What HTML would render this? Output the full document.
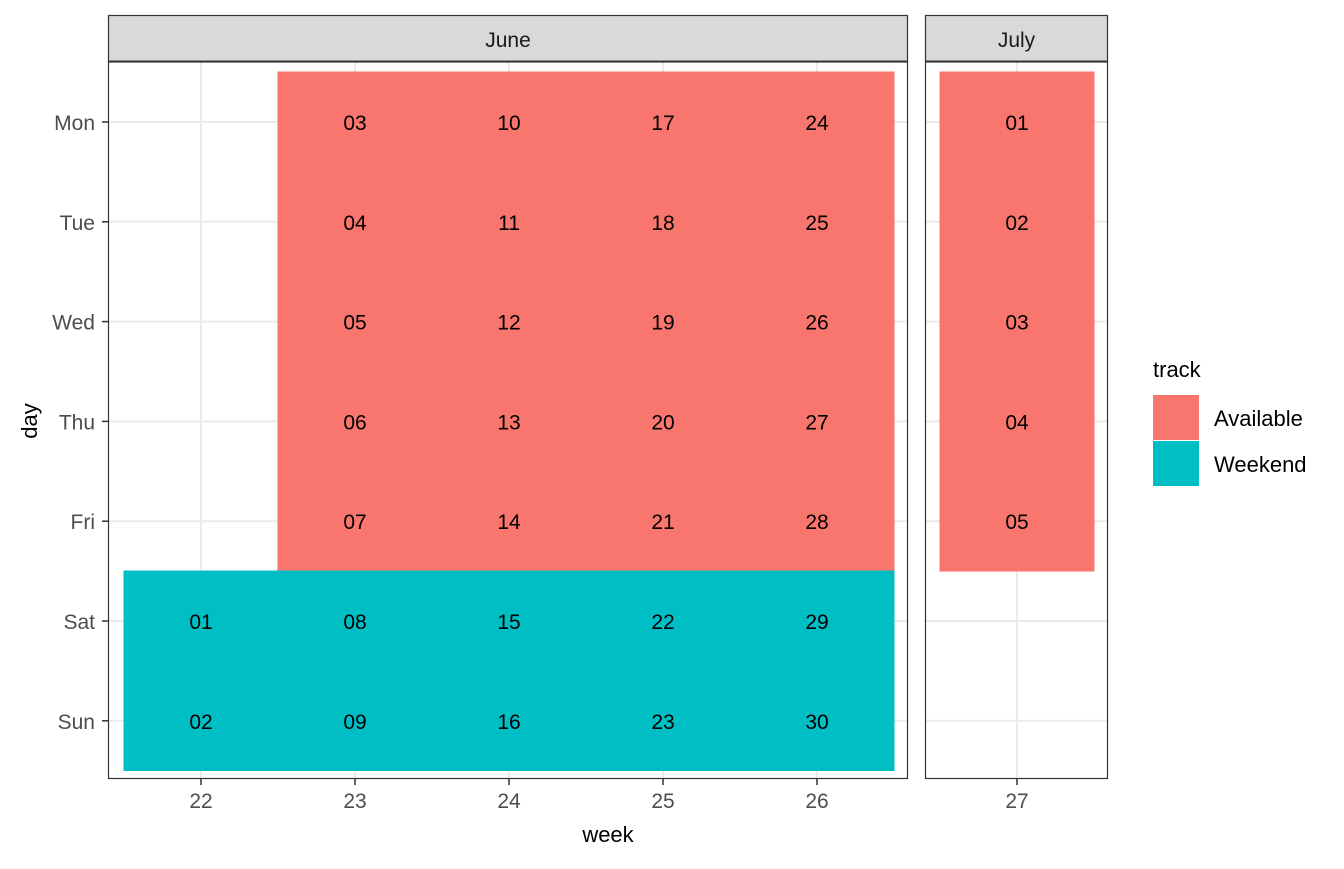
<!DOCTYPE html>
<html><head><meta charset="utf-8"><style>
body{margin:0;background:#fff;font-family:"Liberation Sans",sans-serif}
svg text{font-family:"Liberation Sans",sans-serif}
</style></head><body>
<svg id="chart" width="1344" height="864" xmlns="http://www.w3.org/2000/svg"></svg>
<script>
const days = ["Mon","Tue","Wed","Thu","Fri","Sat","Sun"];
const juneWeeks = [22,23,24,25,26];
const julyWeeks = [27];
// tiles: [week, dayIndex, date, track]
const juneDates = [
 [22,5,"01","Weekend"],[22,6,"02","Weekend"],
 [23,0,"03","Available"],[23,1,"04","Available"],[23,2,"05","Available"],[23,3,"06","Available"],[23,4,"07","Available"],[23,5,"08","Weekend"],[23,6,"09","Weekend"],
 [24,0,"10","Available"],[24,1,"11","Available"],[24,2,"12","Available"],[24,3,"13","Available"],[24,4,"14","Available"],[24,5,"15","Weekend"],[24,6,"16","Weekend"],
 [25,0,"17","Available"],[25,1,"18","Available"],[25,2,"19","Available"],[25,3,"20","Available"],[25,4,"21","Available"],[25,5,"22","Weekend"],[25,6,"23","Weekend"],
 [26,0,"24","Available"],[26,1,"25","Available"],[26,2,"26","Available"],[26,3,"27","Available"],[26,4,"28","Available"],[26,5,"29","Weekend"],[26,6,"30","Weekend"]
];
const julyDates = [
 [27,0,"01","Available"],[27,1,"02","Available"],[27,2,"03","Available"],[27,3,"04","Available"],[27,4,"05","Available"]
];
const trackNames = ["Available","Weekend"];
const trackColors = {Available:"#F8766D",Weekend:"#00BFC4"};

const NS="http://www.w3.org/2000/svg";
const svg=document.getElementById("chart");
function mk(tag,attrs,parent){const e=document.createElementNS(NS,tag);for(const k in attrs)e.setAttribute(k,attrs[k]);(parent||svg).appendChild(e);return e;}

const step=154;
const yScale=d=>122+d*99.8;
const panels=[
 {name:"June",x0:108,x1:908,weeks:juneWeeks,data:juneDates,xs:w=>201+(w-22)*step},
 {name:"July",x0:925,x1:1108,weeks:julyWeeks,data:julyDates,xs:w=>1017+(w-27)*step}
];
const pTop=62,pBottom=779;
panels.forEach(p=>{
 const g=mk("g",{});
 
 
 mk("rect",{x:p.x0,y:pTop,width:p.x1-p.x0,height:pBottom-pTop,fill:"#fff"},g);
 days.forEach((d,i)=>mk("line",{x1:p.x0,x2:p.x1,y1:yScale(i),y2:yScale(i),stroke:"#EBEBEB","stroke-width":2},g));
 p.weeks.forEach(w=>mk("line",{x1:p.xs(w),x2:p.xs(w),y1:pTop,y2:pBottom,stroke:"#EBEBEB","stroke-width":2},g));
 p.data.forEach(r=>{
  const [w,di,date,tr]=r;
  const t=mk("rect",{x:p.xs(w)-step/2-0.5,y:yScale(di)-49.9-0.5,width:step+1,height:100.8,fill:trackColors[tr],"shape-rendering":"crispEdges"},g);
  
  
 });
 p.data.forEach(r=>{
  const [w,di,date]=r;
  const tx=mk("text",{x:p.xs(w),y:yScale(di)+8,"text-anchor":"middle","font-size":21,fill:"#000"},g);
  tx.textContent=date;
  
  
 });
 mk("rect",{x:p.x0+0.5,y:pTop,width:p.x1-p.x0-1,height:pBottom-pTop-0.5,fill:"none",stroke:"#333","stroke-width":1.2},g);
 const s=mk("rect",{x:p.x0+0.5,y:15.5,width:p.x1-p.x0-1,height:46,fill:"#D9D9D9",stroke:"#333","stroke-width":1.2},g);
 
 
 mk("line",{x1:p.x0,x2:p.x1,y1:61.5,y2:61.5,stroke:"#333","stroke-width":2},g);
 const st=mk("text",{x:(p.x0+p.x1)/2,y:47,"text-anchor":"middle","font-size":21,fill:"#1A1A1A"},g);
 st.textContent=p.name;
 p.weeks.forEach(w=>{
  mk("line",{x1:p.xs(w),x2:p.xs(w),y1:pBottom,y2:pBottom+6,stroke:"#333","stroke-width":1.5},g);
  const t=mk("text",{x:p.xs(w),y:808,"text-anchor":"middle","font-size":21,fill:"#4D4D4D"},g);
  t.textContent=w;
  
  
 });
});
days.forEach((d,i)=>{
 mk("line",{x1:102,x2:108,y1:yScale(i),y2:yScale(i),stroke:"#333","stroke-width":1.5});
 const t=mk("text",{x:95,y:yScale(i)+8,"text-anchor":"end","font-size":21,fill:"#4D4D4D"});
 t.textContent=d;
 
 
});
const xt=mk("text",{x:608,y:842,"text-anchor":"middle","font-size":22,fill:"#000"});xt.textContent="week";


const yt=mk("text",{x:0,y:0,"text-anchor":"middle","font-size":22,fill:"#000",transform:"translate(37,421) rotate(-90)"});yt.textContent="day";


const lg=mk("g",{});


const lt=mk("text",{x:1153,y:377,"font-size":22,fill:"#000"},lg);lt.textContent="track";
trackNames.forEach((n,i)=>{
 const y=395+i*46;
 const r=mk("rect",{x:1153,y:y,width:46,height:45,fill:trackColors[n]},lg);
 
 
 const t=mk("text",{x:1214,y:y+31,"font-size":22,fill:"#000"},lg);t.textContent=n;
 
 
});
</script>
</body></html>
